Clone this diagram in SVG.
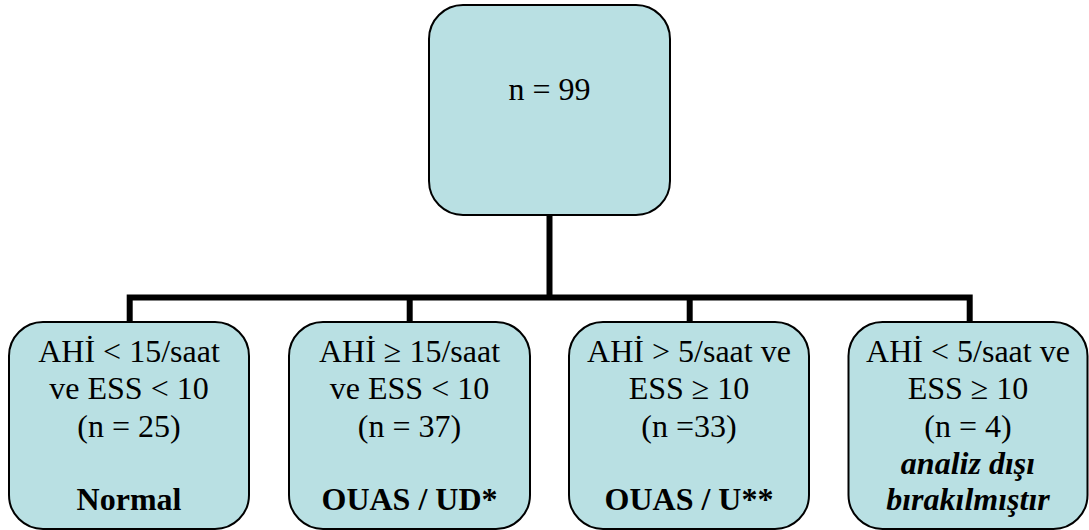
<svg xmlns="http://www.w3.org/2000/svg" width="1089" height="530" viewBox="0 0 1089 530">
  <style>
    .box { fill: #B9E0E3; stroke: #000; stroke-width: 2; }
    .wire { fill: none; stroke: #000; stroke-width: 6; stroke-linejoin: miter; }
    .lbl { font-family: 'Liberation Serif', 'DejaVu Serif', serif; font-size: 32px; fill: #000; text-anchor: middle; }
    .b { font-weight: bold; }
    .bi { font-weight: bold; font-style: italic; }
  </style>
  <rect width="1089" height="530" fill="#fff"/>

  <!-- connectors: trunk from the root, bus bar, and drops to each group -->
  <g id="connectors">
    <path class="wire" d="M549.5 215 V297.5"/>
    <path class="wire" d="M129.7 322 V297.5 H969.7 V322"/>
    <path class="wire" d="M409.7 297.5 V322"/>
    <path class="wire" d="M689.7 297.5 V322"/>
  </g>

  <g id="root">
    <rect class="box" x="429" y="5" width="241" height="210" rx="34"/>
    <text class="lbl" font-family="Liberation Serif" x="549.5" y="100">n = 99</text>
  </g>

  <g id="normal" class="lbl" font-family="Liberation Serif">
    <rect class="box" x="9" y="322" width="240" height="207" rx="34"/>
    <text x="129" y="362">AHİ &lt; 15/saat</text>
    <text x="129" y="399">ve ESS &lt; 10</text>
    <text x="129" y="437">(n = 25)</text>
    <text class="b" x="129" y="510">Normal</text>
  </g>

  <g id="ouas-ud" class="lbl" font-family="Liberation Serif">
    <rect class="box" x="289" y="322" width="241" height="207" rx="34"/>
    <text x="409.5" y="362">AHİ ≥ 15/saat</text>
    <text x="409.5" y="399">ve ESS &lt; 10</text>
    <text x="409.5" y="437">(n = 37)</text>
    <text class="b" x="409.5" y="510">OUAS / UD*</text>
  </g>

  <g id="ouas-u" class="lbl" font-family="Liberation Serif">
    <rect class="box" x="569" y="322" width="240" height="207" rx="34"/>
    <text x="689" y="362">AHİ &gt; 5/saat ve</text>
    <text x="689" y="399">ESS ≥ 10</text>
    <text x="689" y="437">(n =33)</text>
    <text class="b" x="689" y="510">OUAS / U**</text>
  </g>

  <g id="excluded" class="lbl" font-family="Liberation Serif">
    <rect class="box" x="848.5" y="322" width="239" height="207" rx="34"/>
    <text x="968" y="362">AHİ &lt; 5/saat ve</text>
    <text x="968" y="399">ESS ≥ 10</text>
    <text x="968" y="437">(n = 4)</text>
    <text class="bi" x="968" y="474">analiz dışı</text>
    <text class="bi" x="968" y="510">bırakılmıştır</text>
  </g>
</svg>
